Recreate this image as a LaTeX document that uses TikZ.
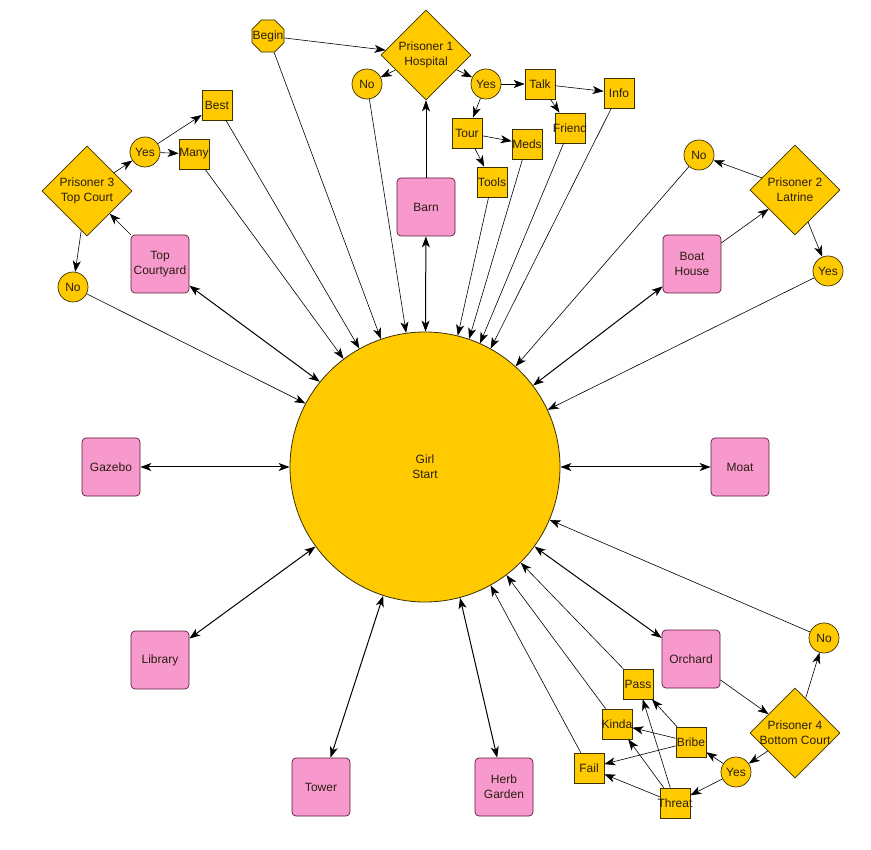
\documentclass[tikz,border=0pt]{standalone}
\usepackage{fontspec}
\setmainfont{Liberation Sans}
\usetikzlibrary{arrows.meta, shapes.geometric}
\definecolor{gold}{HTML}{FFCA00}
\definecolor{rose}{HTML}{F799CC}
\definecolor{maroon}{HTML}{5C1A3A}
\definecolor{dkolive}{HTML}{3A3000}
\definecolor{ink}{HTML}{2A1E10}

\begin{document}
\begin{tikzpicture}[
    x=1pt, y=-1pt,
    >={Stealth[length=11pt, width=8pt, inset=3pt]},
    every node/.style={text=ink, font=\fontsize{12}{15}\selectfont, align=center},
    locbox/.style={rectangle, rounded corners=4pt, fill=rose, draw=maroon,
                   line width=0.7pt, minimum size=58pt, inner sep=0pt},
    yesno/.style={circle, fill=gold, draw=dkolive, line width=0.7pt,
                  minimum size=30pt, inner sep=0pt},
    answer/.style={rectangle, fill=gold, draw=dkolive, line width=0.7pt,
                   minimum size=30pt, inner xsep=-3pt, inner ysep=0pt},
    prisoner/.style={diamond, fill=gold, draw=dkolive, line width=0.7pt,
                     minimum width=90pt, minimum height=90pt, inner sep=-6pt},
  ]

  % Background
  \useasboundingbox (0,0) rectangle (871,850);
  \fill[white] (0,0) rectangle (871,850);

  % Centre
  \node[circle, fill=gold, draw=dkolive, line width=0.8pt,
        minimum size=270pt] (girl) at (425,467) {Girl\\Start};

  % Places
  \node[locbox] (barn)     at (426,207) {Barn};
  \node[locbox] (topcourt) at (160,264) {Top\\Courtyard};
  \node[locbox] (boathouse) at (692,264) {Boat\\House};
  \node[locbox] (gazebo)   at (111,467) {Gazebo};
  \node[locbox] (moat)     at (740,467) {Moat};
  \node[locbox] (library)  at (160,660) {Library};
  \node[locbox] (orchard)  at (691,659) {Orchard};
  \node[locbox] (tower)    at (321,787) {Tower};
  \node[locbox] (herb)     at (504,787) {Herb\\Garden};

  % Prisoner 1
  \node[regular polygon, regular polygon sides=8, fill=gold, draw=dkolive,
        line width=0.7pt, minimum size=32.5pt, inner sep=-4pt] (begin) at (268,36) {Begin};
  \node[prisoner] (pris1) at (426,55) {Prisoner 1\\Hospital};
  \node[yesno] (no1)  at (367,84) {No};
  \node[yesno] (yes1) at (486,84) {Yes};
  \node[answer] (talk)   at (540,84)  {Talk};
  \node[answer] (info)   at (619,93)  {Info};
  \node[answer] (friend) at (570,128) {Friend};
  \node[answer] (tour)   at (467,133) {Tour};
  \node[answer] (meds)   at (527,144) {Meds};
  \node[answer] (tools)  at (492,182) {Tools};

  % Prisoner 2
  \node[prisoner] (pris2) at (795,190) {Prisoner 2\\Latrine};
  \node[yesno] (no2)  at (699,155) {No};
  \node[yesno] (yes2) at (828,271) {Yes};

  % Prisoner 3
  \node[prisoner] (pris3) at (87,191) {Prisoner 3\\Top Court};
  \node[yesno] (yes3) at (145,152) {Yes};
  \node[yesno] (no3)  at (73,287)  {No};
  \node[answer] (best) at (217,105) {Best};
  \node[answer] (many) at (194,154) {Many};

  % Prisoner 4
  \node[prisoner] (pris4) at (795,733) {Prisoner 4\\Bottom Court};
  \node[yesno] (no4)  at (824,638) {No};
  \node[yesno] (yes4) at (736,772) {Yes};
  \node[answer] (bribe)  at (691,742) {Bribe};
  \node[answer] (threat) at (675,803) {Threat};
  \node[answer] (fail)   at (589,768) {Fail};
  \node[answer] (kinda)  at (617,724) {Kinda};
  \node[answer] (pass)   at (638,684) {Pass};

  % Edge styles
  \tikzset{
    leads/.style={->, line width=0.6pt, black},
    visits/.style={<->, line width=1pt, black},
  }

  % Places <-> centre
  \draw[visits] (barn) -- (girl);
  \draw[visits] (topcourt) -- (girl.141.9);
  \draw[visits] (boathouse) -- (girl.37.8);
  \draw[visits] (gazebo) -- (girl);
  \draw[visits] (moat) -- (girl);
  \draw[visits] (library) -- (girl.216.9);
  \draw[visits] (orchard) -- (girl.-36.5);
  \draw[visits] (tower) -- (girl.252.6);
  \draw[visits] (herb) -- (girl.-75);

  % Places -> prisoners
  \draw[leads] (barn) -- (pris1);
  \draw[leads] (topcourt) -- (pris3);
  \draw[leads] (boathouse) -- (pris2);
  \draw[leads] (orchard) -- (pris4);

  % Prisoner 1 tree
  \draw[leads] (begin) -- (pris1);
  \draw[leads] (pris1) -- (no1);
  \draw[leads] (pris1) -- (yes1);
  \draw[leads] (yes1) -- (talk);
  \draw[leads] (yes1) -- (tour);
  \draw[leads] (talk) -- (info);
  \draw[leads] (talk) -- (friend);
  \draw[leads] (tour) -- (meds);
  \draw[leads] (tour) -- (tools);

  % Prisoner 2 tree
  \draw[leads] (pris2) -- (no2);
  \draw[leads] (pris2) -- (yes2);

  % Prisoner 3 tree
  \draw[leads] (pris3) -- (yes3);
  \draw[leads] (pris3) -- (no3);
  \draw[leads] (yes3) -- (best);
  \draw[leads] (yes3) -- (many);

  % Prisoner 4 tree
  \draw[leads] (pris4) -- (no4);
  \draw[leads] (pris4) -- (yes4);
  \draw[leads] (yes4) -- (bribe);
  \draw[leads] (yes4) -- (threat);
  \draw[leads] (bribe) -- (pass);
  \draw[leads] (bribe) -- (kinda);
  \draw[leads] (bribe) -- (fail);
  \draw[leads] (threat) -- (fail);
  \draw[leads] (threat) -- (kinda);
  \draw[leads] (threat) -- (pass);

  % Outcomes -> centre
  \draw[leads] (begin) -- (girl.109.9);
  \draw[leads] (no1) -- (girl.98.3);
  \draw[leads] (best) -- (girl.119.8);
  \draw[leads] (many) -- (girl.127.3);
  \draw[leads] (tools) -- (girl.76.3);
  \draw[leads] (meds) -- (girl.71.8);
  \draw[leads] (friend) -- (girl.66.2);
  \draw[leads] (info) -- (girl.61.8);
  \draw[leads] (no2) -- (girl.48.4);
  \draw[leads] (yes2) -- (girl.25.6);
  \draw[leads] (no3) -- (girl.152.7);
  \draw[leads] (no4) -- (girl.-23.3);
  \draw[leads] (pass) -- (girl.-45.6);
  \draw[leads] (kinda) -- (girl.-53.2);
  \draw[leads] (fail) -- (girl.-61);

\end{tikzpicture}
\end{document}
